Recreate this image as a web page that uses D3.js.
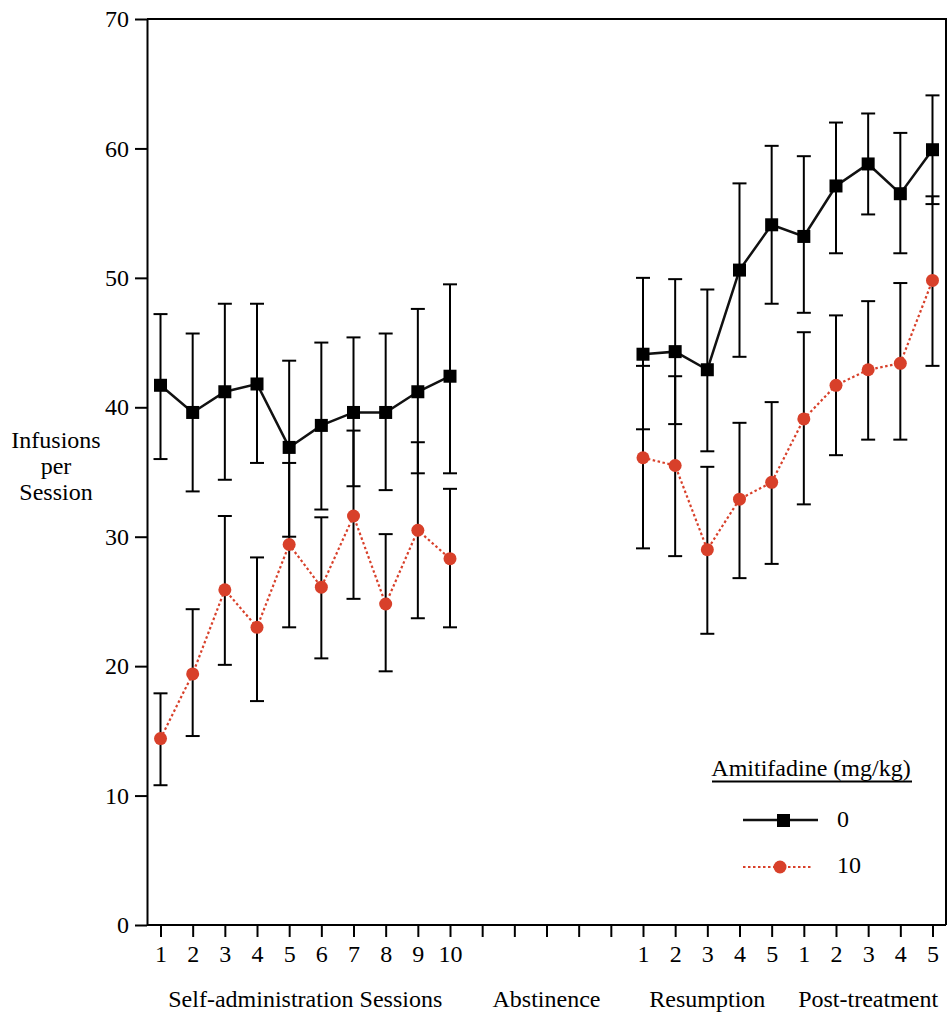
<!DOCTYPE html>
<html>
<head>
<meta charset="utf-8">
<script src="https://cdn.jsdelivr.net/npm/d3@7"></script>
<style>
  body { margin: 0; background: #fff; }
  svg { display: block; }
  svg text { font-family: "Liberation Serif", "Times New Roman", "DejaVu Serif", serif; fill: #000; }
</style>
</head>
<body>
<svg id="chart" width="951" height="1017"></svg>
<script>
// x slots: 10 self-admin sessions, 5 abstinence (no data), 5 resumption, 5 post-treatment
const tickLabels = ['1','2','3','4','5','6','7','8','9','10','','','','','','1','2','3','4','5','1','2','3','4','5'];
const phases = ['Self-administration Sessions', 'Abstinence', 'Resumption', 'Post-treatment'];
const phaseCenters = [4.5, 12, 17, 22];

// 0 mg/kg
const dose0Mean  = [41.7, 39.6, 41.2, 41.8, 36.9, 38.6, 39.6, 39.6, 41.2, 42.4, null, null, null, null, null, 44.1, 44.3, 42.9, 50.6, 54.1, 53.2, 57.1, 58.8, 56.5, 59.9];
const dose0Upper = [47.2, 45.7, 48.0, 48.0, 43.6, 45.0, 45.4, 45.7, 47.6, 49.5, null, null, null, null, null, 50.0, 49.9, 49.1, 57.3, 60.2, 59.4, 62.0, 62.7, 61.2, 64.1];
const dose0Lower = [36.0, 33.5, 34.4, 35.7, 30.0, 32.1, 33.9, 33.6, 34.9, 34.9, null, null, null, null, null, 38.3, 38.7, 36.6, 43.9, 48.0, 47.3, 51.9, 54.9, 51.9, 55.7];

// 10 mg/kg
const dose10Mean  = [14.4, 19.4, 25.9, 23.0, 29.4, 26.1, 31.6, 24.8, 30.5, 28.3, null, null, null, null, null, 36.1, 35.5, 29.0, 32.9, 34.2, 39.1, 41.7, 42.9, 43.4, 49.8];
const dose10Upper = [17.9, 24.4, 31.6, 28.4, 35.7, 31.5, 38.2, 30.2, 37.3, 33.7, null, null, null, null, null, 43.2, 42.4, 35.4, 38.8, 40.4, 45.8, 47.1, 48.2, 49.6, 56.3];
const dose10Lower = [10.8, 14.6, 20.1, 17.3, 23.0, 20.6, 25.2, 19.6, 23.7, 23.0, null, null, null, null, null, 29.1, 28.5, 22.5, 26.8, 27.9, 32.5, 36.3, 37.5, 37.5, 43.2];

const yTicks = [0, 10, 20, 30, 40, 50, 60, 70];
const yTitle = ['Infusions', 'per', 'Session'];
const legendTitle = 'Amitifadine (mg/kg)';
const legendLabels = ['0', '10'];

const red = '#d8402a';
const svg = d3.select('#chart');

const plotL = 147, plotR = 946, plotT = 19, plotB = 925;

const xScale = d3.scalePoint().domain(d3.range(tickLabels.length)).range([plotL, plotR]).padding(0.42);
const yScale = d3.scaleLinear().domain([0, 70]).range([plotB, plotT]);

// frame (top + right)
svg.append('path')
  .attr('d', `M${plotL},${plotT}H${plotR}V${plotB}`)
  .attr('fill', 'none').attr('stroke', '#000').attr('stroke-width', 2);

// y axis
const yAxis = d3.axisLeft(yScale).tickValues(yTicks).tickSize(12).tickPadding(6).tickSizeOuter(0);
const yG = svg.append('g').attr('transform', `translate(${plotL},0)`).call(yAxis);
yG.attr('font-family', null).attr('font-size', 24);
yG.select('.domain').attr('stroke-width', 2);
yG.selectAll('.tick line').attr('stroke-width', 2);
yG.selectAll('.tick text').attr('fill', null);

// x axis
const xAxis = d3.axisBottom(xScale).tickSize(12).tickPadding(8).tickSizeOuter(0).tickFormat(i => tickLabels[i]);
const xG = svg.append('g').attr('transform', `translate(0,${plotB})`).call(xAxis);
xG.attr('font-family', null).attr('font-size', 24);
xG.select('.domain').attr('d', `M${plotL},0H${plotR}`).attr('stroke-width', 2);
xG.selectAll('.tick line').attr('stroke-width', 2);
xG.selectAll('.tick text').attr('fill', null);

// phase labels
svg.append('g').selectAll('text').data(phases).join('text')
  .attr('x', (d, i) => {
    const c = phaseCenters[i];
    return (xScale(Math.floor(c)) + xScale(Math.ceil(c))) / 2;
  })
  .attr('y', 1007)
  .attr('text-anchor', 'middle')
  .attr('font-size', 24)
  .text(d => d);

// y label
svg.append('text').attr('text-anchor', 'middle').attr('font-size', 24)
  .selectAll('tspan').data(yTitle).join('tspan')
  .attr('x', 56).attr('y', (d, i) => 448 + i * 26).text(d => d);

function drawErrorBars (mean, upper, lower) {
  const idx = d3.range(mean.length).filter(i => mean[i] != null);
  const eb = svg.append('g').attr('stroke', '#000').attr('stroke-width', 2);
  idx.forEach(i => {
    const x = xScale(i);
    eb.append('line').attr('x1', x).attr('x2', x).attr('y1', yScale(upper[i])).attr('y2', yScale(lower[i]));
    eb.append('line').attr('x1', x - 7).attr('x2', x + 7).attr('y1', yScale(upper[i])).attr('y2', yScale(upper[i]));
    eb.append('line').attr('x1', x - 7).attr('x2', x + 7).attr('y1', yScale(lower[i])).attr('y2', yScale(lower[i]));
  });
  return idx;
}

const idx0 = drawErrorBars(dose0Mean, dose0Upper, dose0Lower);
const idx10 = drawErrorBars(dose10Mean, dose10Upper, dose10Lower);

const line = d3.line()
  .defined(d => d != null)
  .x((d, i) => xScale(i))
  .y(d => yScale(d));

// lines and markers on top of all error bars
svg.append('path').datum(dose0Mean)
  .attr('d', line).attr('fill', 'none').attr('stroke', '#111').attr('stroke-width', 2.5);
svg.append('g').selectAll('rect').data(idx0).join('rect')
  .attr('x', i => xScale(i) - 6.5).attr('y', i => yScale(dose0Mean[i]) - 6.5)
  .attr('width', 13).attr('height', 13).attr('fill', '#000');

svg.append('path').datum(dose10Mean)
  .attr('d', line).attr('fill', 'none').attr('stroke', red).attr('stroke-width', 2.2)
  .attr('stroke-dasharray', '2.5,2.5');
svg.append('g').selectAll('circle').data(idx10).join('circle')
  .attr('cx', i => xScale(i)).attr('cy', i => yScale(dose10Mean[i]))
  .attr('r', 6.5).attr('fill', red);

// legend
const lg = svg.append('g');
lg.append('text').attr('x', 811).attr('y', 776).attr('text-anchor', 'middle')
  .attr('font-size', 24).text(legendTitle);
lg.append('line').attr('x1', 712).attr('x2', 912).attr('y1', 781.5).attr('y2', 781.5)
  .attr('stroke', '#000').attr('stroke-width', 2);

lg.append('line').attr('x1', 743).attr('x2', 818).attr('y1', 820).attr('y2', 820)
  .attr('stroke', '#111').attr('stroke-width', 2.5);
lg.append('rect').attr('x', 777).attr('y', 814).attr('width', 13).attr('height', 13).attr('fill', '#000');
lg.append('text').attr('x', 837).attr('y', 827).attr('font-size', 24).text(legendLabels[0]);

lg.append('line').attr('x1', 743).attr('x2', 813).attr('y1', 867).attr('y2', 867)
  .attr('stroke', red).attr('stroke-width', 2.2).attr('stroke-dasharray', '2.5,2.5');
lg.append('circle').attr('cx', 780).attr('cy', 867).attr('r', 6.5).attr('fill', red);
lg.append('text').attr('x', 837).attr('y', 873).attr('font-size', 24).text(legendLabels[1]);
</script>
</body>
</html>
